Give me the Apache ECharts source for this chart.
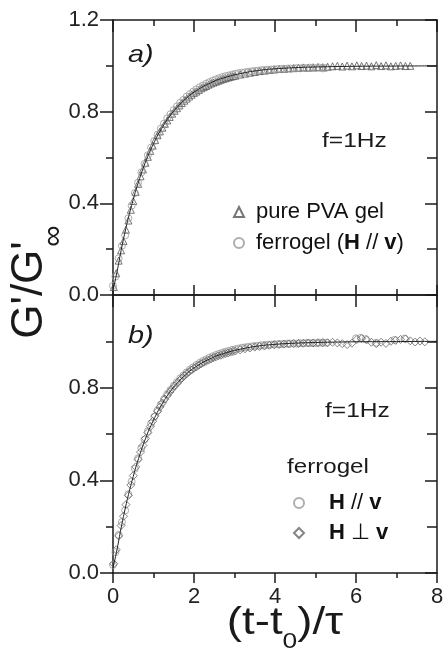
<!DOCTYPE html>
<html><head><meta charset="utf-8">
<script src="https://cdn.jsdelivr.net/npm/echarts/dist/echarts.min.js"></script>
<style>html,body{margin:0;padding:0;background:#fff}#c{width:445px;height:648px}</style>
</head><body><div id="c"></div>
<script>
// ---------- data ----------
const xRange = [0, 8];
const yRange = [0, 1.2];

// panel a) pure PVA gel (triangles)
const aTriX = [0.02,0.08,0.14,0.20,0.26,0.32,0.38,0.44,0.50,0.56,0.62,0.68,0.74,0.80,0.86,0.92,0.98,1.04,1.10,1.16,1.22,1.28,1.34,1.40,1.46,1.52,1.58,1.64,1.70,1.76,1.82,1.88,1.94,2.00,2.06,2.12,2.18,2.24,2.30,2.36,2.42,2.48,2.54,2.60,2.66,2.72,2.78,2.84,2.90,2.96,3.02,3.14,3.26,3.38,3.50,3.62,3.74,3.86,3.98,4.10,4.22,4.34,4.46,4.58,4.70,4.82,4.94,5.06,5.18,5.30,5.42,5.54,5.66,5.78,5.90,6.02,6.14,6.26,6.38,6.50,6.62,6.74,6.86,6.98,7.10,7.22,7.34];
const aTriY = [0.035,0.095,0.15,0.195,0.235,0.285,0.325,0.372,0.41,0.45,0.485,0.518,0.548,0.577,0.603,0.629,0.652,0.676,0.697,0.714,0.73,0.747,0.762,0.777,0.791,0.804,0.815,0.827,0.838,0.848,0.857,0.866,0.874,0.882,0.888,0.895,0.902,0.907,0.912,0.918,0.923,0.927,0.931,0.935,0.939,0.943,0.946,0.949,0.952,0.955,0.957,0.962,0.966,0.970,0.973,0.977,0.979,0.982,0.984,0.986,0.987,0.989,0.990,0.991,0.993,0.992,0.994,0.995,0.994,0.996,0.998,1.000,0.997,1.001,0.998,1.002,0.999,1.001,0.998,1.003,0.999,1.002,0.998,1.000,1.002,0.999,1.000];

// panel a) ferrogel H // v (circles)
const aCirX = [0.00,0.06,0.14,0.22,0.30,0.38,0.46,0.54,0.62,0.70,0.78,0.86,0.94,1.02,1.10,1.18,1.26,1.34,1.42,1.50,1.58,1.66,1.74,1.82,1.90,1.98,2.06,2.14,2.22,2.30,2.38,2.46,2.54,2.62,2.70,2.78,2.86,2.94,3.02,3.10,3.18,3.26,3.34,3.42,3.50,3.58,3.66,3.74,3.82,3.90,3.98,4.06,4.14,4.22,4.30,4.38,4.46,4.54,4.62,4.70,4.78,4.86,4.94,5.02,5.10,5.18,5.26];
const aCirY = [0.04,0.08,0.16,0.215,0.26,0.335,0.39,0.445,0.49,0.535,0.572,0.61,0.643,0.672,0.70,0.726,0.748,0.771,0.789,0.807,0.823,0.839,0.852,0.866,0.877,0.888,0.897,0.907,0.914,0.922,0.929,0.935,0.941,0.946,0.951,0.955,0.958,0.962,0.965,0.968,0.970,0.972,0.974,0.976,0.978,0.979,0.981,0.982,0.983,0.984,0.985,0.986,0.986,0.987,0.988,0.988,0.989,0.990,0.989,0.991,0.990,0.992,0.991,0.990,0.992,0.989,0.991];

// fitted curve (both panels)
const fitX = [0,0.1,0.2,0.3,0.4,0.5,0.6,0.8,1.0,1.2,1.4,1.6,1.8,2.0,2.4,2.8,3.2,3.6,4.0,4.5,5.0,6.0,7.0,8.0];
const fitY = [0.02,0.102,0.194,0.277,0.351,0.417,0.477,0.579,0.660,0.726,0.780,0.822,0.857,0.885,0.925,0.951,0.968,0.980,0.987,0.992,0.995,0.998,0.999,1.0];

// panel b) ferrogel H // v (circles)
const bCirX = [0.00,0.06,0.14,0.22,0.30,0.38,0.46,0.54,0.62,0.70,0.78,0.86,0.94,1.02,1.10,1.18,1.26,1.34,1.42,1.50,1.58,1.66,1.74,1.82,1.90,1.98,2.06,2.14,2.22,2.30,2.38,2.46,2.54,2.62,2.70,2.78,2.86,2.94,3.02,3.10,3.18,3.26,3.34,3.42,3.50,3.58,3.66,3.74,3.82,3.90,3.98,4.06,4.14,4.22,4.30,4.38,4.46,4.54,4.62,4.70,4.78,4.86,4.94,5.02,5.10,5.18,5.26,6.00,6.12,6.24,6.50,6.95,7.20];
const bCirY = [0.035,0.09,0.165,0.22,0.27,0.34,0.395,0.45,0.495,0.538,0.576,0.612,0.645,0.674,0.702,0.727,0.750,0.772,0.790,0.808,0.824,0.840,0.853,0.866,0.878,0.888,0.898,0.907,0.915,0.922,0.929,0.935,0.941,0.946,0.951,0.955,0.959,0.963,0.966,0.969,0.972,0.974,0.976,0.978,0.980,0.981,0.983,0.984,0.985,0.986,0.987,0.988,0.988,0.989,0.990,0.990,0.991,0.990,0.992,0.991,0.993,0.992,0.993,0.992,0.994,0.993,0.994,1.013,1.015,1.010,0.994,1.006,1.012];

// panel b) ferrogel H ⊥ v (diamonds)
const bDiaX = [0.02,0.08,0.14,0.20,0.26,0.32,0.38,0.44,0.50,0.56,0.62,0.68,0.74,0.80,0.86,0.92,0.98,1.04,1.10,1.16,1.22,1.28,1.34,1.40,1.46,1.52,1.58,1.64,1.70,1.76,1.82,1.88,1.94,2.00,2.06,2.12,2.18,2.24,2.30,2.36,2.42,2.48,2.54,2.60,2.66,2.72,2.78,2.84,2.90,2.96,3.02,3.14,3.26,3.38,3.50,3.62,3.74,3.86,3.98,4.10,4.22,4.34,4.46,4.58,4.70,4.82,4.94,5.06,5.18,5.30,5.42,5.54,5.66,5.78,5.90,6.02,6.14,6.26,6.38,6.50,6.62,6.74,6.86,6.98,7.10,7.22,7.34,7.46,7.58,7.70];
const bDiaY = [0.04,0.10,0.16,0.205,0.245,0.295,0.335,0.38,0.42,0.458,0.49,0.522,0.55,0.58,0.606,0.632,0.655,0.678,0.698,0.717,0.734,0.751,0.766,0.781,0.794,0.807,0.818,0.830,0.841,0.851,0.860,0.869,0.876,0.884,0.890,0.897,0.903,0.909,0.914,0.919,0.924,0.929,0.933,0.937,0.940,0.944,0.947,0.950,0.953,0.956,0.958,0.963,0.968,0.971,0.975,0.978,0.980,0.983,0.985,0.986,0.988,0.989,0.990,0.991,0.992,0.993,0.993,0.994,0.995,0.994,0.996,0.993,0.990,0.986,0.992,1.008,1.012,1.006,0.996,0.990,0.996,0.991,1.000,1.004,1.008,1.010,1.002,0.997,1.001,0.998];

// ---------- chart ----------
const FONT = '"Liberation Sans", Arial, Helvetica, sans-serif';
const INK = '#1a1a1a';
const pairs = (xs, ys) => xs.map((x, i) => [x, ys[i]]);

function mkX(grid, pos, showLabel, inside, len, mlen) {
  return {
    type: 'value', gridIndex: grid, position: pos, min: xRange[0], max: xRange[1], interval: 2,
    axisLine: { show: true, onZero: false, lineStyle: { color: INK, width: 1.5 } },
    axisTick: { show: true, inside: inside, length: len, lineStyle: { color: INK, width: 1.5 } },
    minorTick: { show: true, splitNumber: 2, length: mlen, lineStyle: { color: INK, width: 1.5 } },
    axisLabel: { show: showLabel, fontFamily: FONT, fontSize: 22, color: '#222', margin: 13 },
    splitLine: { show: false }, minorSplitLine: { show: false }
  };
}
function mkY(grid, pos, showLabel, inside, len, mlen, showMax) {
  return {
    type: 'value', gridIndex: grid, position: pos, min: yRange[0], max: yRange[1], interval: 0.4,
    axisLine: { show: true, onZero: false, lineStyle: { color: INK, width: 1.5 } },
    axisTick: { show: true, inside: inside, length: len, lineStyle: { color: INK, width: 1.5 } },
    minorTick: { show: true, splitNumber: 2, length: mlen, lineStyle: { color: INK, width: 1.5 } },
    axisLabel: { show: showLabel, fontFamily: FONT, fontSize: 22, color: '#222', margin: 14,
      showMaxLabel: showMax, formatter: v => v.toFixed(1) },
    splitLine: { show: false }, minorSplitLine: { show: false }
  };
}
function scatter(name, xi, yi, symbol, size, color, xs, ys) {
  return {
    type: 'scatter', name: name, xAxisIndex: xi, yAxisIndex: yi, symbol: symbol, symbolSize: size,
    itemStyle: { color: 'rgba(255,255,255,0)', borderColor: color, borderWidth: 1 },
    data: pairs(xs, ys), z: 2, silent: true
  };
}
function fit(xi, yi) {
  return {
    type: 'line', xAxisIndex: xi, yAxisIndex: yi, data: pairs(fitX, fitY), smooth: true,
    symbol: 'none', showSymbol: false, lineStyle: { color: '#222', width: 1 }, z: 3, silent: true
  };
}
const legendText = { fontFamily: FONT, fontSize: 22, color: '#111', lineHeight: 22,
  rich: { b: { fontFamily: FONT, fontSize: 22, fontWeight: 'bold', color: '#111', lineHeight: 22 },
          n: { fontFamily: FONT, fontSize: 22, color: '#111', lineHeight: 22 } } };

function txt(x, y, text, size, opts) {
  return Object.assign({ type: 'text', x: x, y: y, silent: true,
    style: Object.assign({ text: text, fontFamily: FONT, fontSize: size, fill: INK,
      align: 'left', verticalAlign: 'middle', textAlign: 'left', textVerticalAlign: 'middle' }, opts && opts.style || {}) },
    opts && opts.el || {});
}

const option = {
  backgroundColor: '#fff',
  animation: false,
  grid: [
    { left: 113, right: 8, top: 20, height: 275, outerBoundsMode: 'none', containLabel: false },
    { left: 113, right: 8, top: 295, height: 278, outerBoundsMode: 'none', containLabel: false }
  ],
  xAxis: [
    mkX(0, 'bottom', false, true, 10, 6),
    mkX(0, 'top', false, true, 12, 6),
    mkX(1, 'bottom', true, false, 10, 5),
    mkX(1, 'top', false, true, 12, 6)
  ],
  yAxis: [
    mkY(0, 'left', true, false, 13, 7, true),
    mkY(0, 'right', false, true, 12, 10, true),
    mkY(1, 'left', true, false, 13, 7, false),
    mkY(1, 'right', false, true, 12, 10, false)
  ],
  legend: [
    { data: ['pure PVA gel', 'ferrogel (H // v)'], orient: 'vertical', left: 228, top: 196,
      itemWidth: 10, itemHeight: 10, itemGap: 9, selectedMode: false,
      textStyle: Object.assign({ padding: [0, 0, 0, 7] }, legendText),
      formatter: n => n === 'ferrogel (H // v)' ? '{n|ferrogel (}{b|H}{n| // }{b|v}{n|)}' : n },
    { data: ['H // v', 'H \u22A5 v'], orient: 'vertical', left: 288, top: 487,
      itemWidth: 10, itemHeight: 10, itemGap: 8, selectedMode: false,
      textStyle: Object.assign({ padding: [0, 0, 0, 20] }, legendText),
      formatter: n => n === 'H // v' ? '{b|H}{n| // }{b|v}' : '{b|H}{n| \u22A5 }{b|v}' }
  ],
  series: [
    scatter('pure PVA gel', 0, 0, 'triangle', 7, '#555', aTriX, aTriY),
    scatter('ferrogel (H // v)', 0, 0, 'circle', 7, '#999', aCirX, aCirY),
    fit(0, 0),
    scatter('H // v', 2, 2, 'circle', 7, '#999', bCirX, bCirY),
    scatter('H \u22A5 v', 2, 2, 'diamond', 8, '#666', bDiaX, bDiaY),
    fit(2, 2)
  ],
  graphic: [
    txt(30, 290, "G'/G'", 44, { el: { rotation: Math.PI / 2 }, style: { align: 'center', textAlign: 'center' } }),
    txt(54, 236, '\u221E', 30, { el: { rotation: Math.PI / 2 }, style: { align: 'center', textAlign: 'center' } }),
    txt(285, 624, '{m|(t-t}{s|0}{m|)/\u03C4}', 38, { el: { scaleX: 1.2 }, style: { align: 'center', textAlign: 'center',
      rich: { m: { fontFamily: FONT, fontSize: 38, lineHeight: 58, fill: INK }, s: { fontFamily: FONT, fontSize: 22, lineHeight: 22, verticalAlign: 'bottom', fill: INK } } } }),
    txt(128, 55, 'a)', 24, { el: { scaleX: 1.2 }, style: { fontStyle: 'italic' } }),
    txt(128, 336, 'b)', 24, { el: { scaleX: 1.2 }, style: { fontStyle: 'italic' } }),
    txt(322, 141, 'f=1Hz', 21, { el: { scaleX: 1.17 } }),
    txt(325, 411, 'f=1Hz', 21, { el: { scaleX: 1.17 } }),
    txt(287, 467, 'ferrogel', 21, { el: { scaleX: 1.15 } })
  ]
};
const chart = echarts.init(document.getElementById('c'), null, { renderer: 'canvas' });
chart.setOption(option);
</script>
</body></html>
